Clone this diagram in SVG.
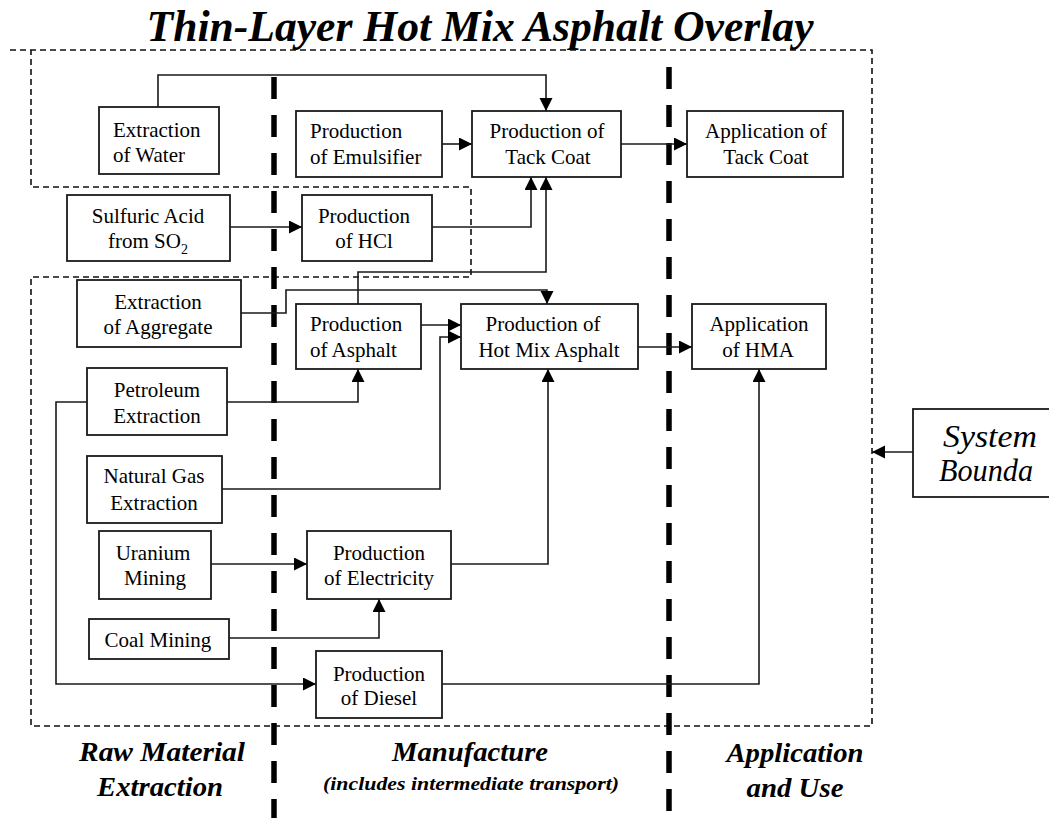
<svg xmlns="http://www.w3.org/2000/svg" width="1049" height="820" viewBox="0 0 1049 820">
  <defs>
    <marker id="arrow" markerUnits="userSpaceOnUse" markerWidth="14" markerHeight="14" refX="13" refY="6.5" orient="auto">
      <path d="M0,0 L13,6.5 L0,13 Z" fill="#000"/>
    </marker>
    <style>
      .box { fill: #fff; stroke: #1a1a1a; stroke-width: 1.8; }
      .lbl { font-family: "Liberation Serif", "Times New Roman", serif; font-size: 21px; fill: #000; }
      .mid { text-anchor: middle; }
      .wire { fill: none; stroke: #1a1a1a; stroke-width: 1.6; }
      .arr { marker-end: url(#arrow); }
      .bound { fill: none; stroke: #111; stroke-width: 1.6; stroke-dasharray: 6 4; }
      .stage { fill: none; stroke: #000; stroke-width: 5.5; stroke-dasharray: 22 16; }
      .head { font-family: "Liberation Serif", "Times New Roman", serif; font-weight: bold; font-style: italic; fill: #000; text-anchor: middle; }
    </style>
  </defs>

  <rect width="1049" height="820" fill="#fff"/>

  <!-- title -->
  <text class="head" x="480" y="41" font-size="44" textLength="667" lengthAdjust="spacingAndGlyphs">Thin-Layer Hot Mix Asphalt Overlay</text>

  <!-- system boundary outline -->
  <path class="bound" d="M10,50 H872 V726 H31 V277 H471 V187 H31 V50"/>

  <!-- life-cycle stage dividers -->
  <line class="stage" x1="274" y1="77" x2="274" y2="818"/>
  <line class="stage" x1="669" y1="67" x2="669" y2="812"/>

  <!-- connectors -->
  <g id="connectors">
    <path class="wire arr" d="M158,107 V75 H546 V111"/>
    <path class="wire arr" d="M442,144 H472"/>
    <path class="wire arr" d="M621,144 H687"/>
    <path class="wire arr" d="M230,227 H302"/>
    <path class="wire arr" d="M432,227 H531 V177"/>
    <path class="wire arr" d="M358,304 V272 H546 V177"/>
    <path class="wire arr" d="M241,313 H286 V290 H547 V304"/>
    <path class="wire arr" d="M418,325 H461"/>
    <path class="wire arr" d="M218,489 H440 V337 H461"/>
    <path class="wire arr" d="M638,347 H692"/>
    <path class="wire arr" d="M227,402 H358 V369"/>
    <path class="wire arr" d="M87,402 H56 V684 H316"/>
    <path class="wire arr" d="M211,564 H307"/>
    <path class="wire arr" d="M229,638 H379 V599"/>
    <path class="wire arr" d="M451,564 H548 V369"/>
    <path class="wire arr" d="M442,684 H759 V369"/>
    <path class="wire arr" d="M913,452 H872"/>
  </g>

  <!-- process nodes -->
  <g id="extraction-water">
    <rect class="box" x="99" y="107" width="120" height="67"/>
    <text class="lbl" x="113" y="137">Extraction</text>
    <text class="lbl" x="113" y="162">of Water</text>
  </g>
  <g id="production-emulsifier">
    <rect class="box" x="296" y="111" width="146" height="66"/>
    <text class="lbl" x="310" y="138">Production</text>
    <text class="lbl" x="310" y="164">of Emulsifier</text>
  </g>
  <g id="production-tack-coat">
    <rect class="box" x="472" y="111" width="149" height="66"/>
    <text class="lbl mid" x="547" y="138">Production of</text>
    <text class="lbl mid" x="548" y="164">Tack Coat</text>
  </g>
  <g id="application-tack-coat">
    <rect class="box" x="687" y="111" width="156" height="66"/>
    <text class="lbl mid" x="766" y="138">Application of</text>
    <text class="lbl mid" x="766" y="164">Tack Coat</text>
  </g>
  <g id="sulfuric-acid">
    <rect class="box" x="67" y="195" width="163" height="66"/>
    <text class="lbl mid" x="148" y="223">Sulfuric Acid</text>
    <text class="lbl mid" x="148" y="248">from SO<tspan font-size="14" dy="6">2</tspan></text>
  </g>
  <g id="production-hcl">
    <rect class="box" x="302" y="195" width="130" height="66"/>
    <text class="lbl mid" x="364" y="223">Production</text>
    <text class="lbl mid" x="364" y="248">of HCl</text>
  </g>
  <g id="extraction-aggregate">
    <rect class="box" x="77" y="280" width="164" height="67"/>
    <text class="lbl mid" x="158" y="309">Extraction</text>
    <text class="lbl mid" x="158" y="334">of Aggregate</text>
  </g>
  <g id="production-asphalt">
    <rect class="box" x="296" y="304" width="125" height="65"/>
    <text class="lbl" x="310" y="331">Production</text>
    <text class="lbl" x="310" y="357">of Asphalt</text>
  </g>
  <g id="production-hma">
    <rect class="box" x="461" y="304" width="177" height="65"/>
    <text class="lbl mid" x="543" y="331">Production of</text>
    <text class="lbl mid" x="549" y="357">Hot Mix Asphalt</text>
  </g>
  <g id="application-hma">
    <rect class="box" x="692" y="304" width="134" height="65"/>
    <text class="lbl mid" x="759" y="331">Application</text>
    <text class="lbl mid" x="758" y="357">of HMA</text>
  </g>
  <g id="petroleum-extraction">
    <rect class="box" x="87" y="368" width="140" height="67"/>
    <text class="lbl mid" x="157" y="397">Petroleum</text>
    <text class="lbl mid" x="157" y="423">Extraction</text>
  </g>
  <g id="natural-gas-extraction">
    <rect class="box" x="87" y="456" width="135" height="67"/>
    <text class="lbl mid" x="154" y="483">Natural Gas</text>
    <text class="lbl mid" x="154" y="510">Extraction</text>
  </g>
  <g id="uranium-mining">
    <rect class="box" x="99" y="531" width="112" height="68"/>
    <text class="lbl mid" x="153" y="560">Uranium</text>
    <text class="lbl mid" x="155" y="585">Mining</text>
  </g>
  <g id="production-electricity">
    <rect class="box" x="307" y="531" width="144" height="68"/>
    <text class="lbl mid" x="379" y="560">Production</text>
    <text class="lbl mid" x="379" y="585">of Electricity</text>
  </g>
  <g id="coal-mining">
    <rect class="box" x="89" y="619" width="140" height="40"/>
    <text class="lbl mid" x="158" y="647">Coal Mining</text>
  </g>
  <g id="production-diesel">
    <rect class="box" x="316" y="651" width="126" height="67"/>
    <text class="lbl mid" x="379" y="681">Production</text>
    <text class="lbl mid" x="379" y="705">of Diesel</text>
  </g>
  <g id="system-boundary-label">
    <rect class="box" x="913" y="409" width="150" height="88"/>
    <text x="990" y="447" font-family="'Liberation Serif', 'Times New Roman', serif" font-style="italic" font-size="32" text-anchor="middle" textLength="94" lengthAdjust="spacingAndGlyphs">System</text>
    <text x="986" y="481" font-family="'Liberation Serif', 'Times New Roman', serif" font-style="italic" font-size="32" text-anchor="middle" textLength="94" lengthAdjust="spacingAndGlyphs">Bounda</text>
  </g>

  <!-- stage captions -->
  <text class="head" x="162" y="761" font-size="28" textLength="166" lengthAdjust="spacingAndGlyphs">Raw Material</text>
  <text class="head" x="160" y="796" font-size="28" textLength="126" lengthAdjust="spacingAndGlyphs">Extraction</text>
  <text class="head" x="470" y="761" font-size="28" textLength="156" lengthAdjust="spacingAndGlyphs">Manufacture</text>
  <text class="head" x="471" y="790" font-size="19" textLength="296" lengthAdjust="spacingAndGlyphs">(includes intermediate transport)</text>
  <text class="head" x="795" y="762" font-size="28" textLength="137" lengthAdjust="spacingAndGlyphs">Application</text>
  <text class="head" x="795" y="797" font-size="28" textLength="97" lengthAdjust="spacingAndGlyphs">and Use</text>
</svg>
